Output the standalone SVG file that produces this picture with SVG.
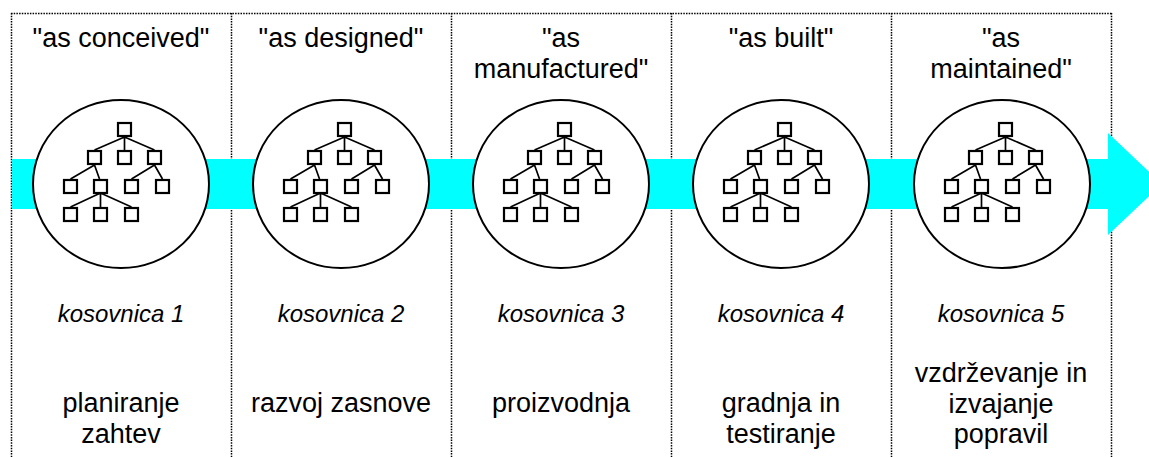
<svg xmlns="http://www.w3.org/2000/svg" xmlns:xlink="http://www.w3.org/1999/xlink" width="1149" height="457" viewBox="0 0 1149 457">
  <style>
    .frame { fill: none; stroke: #000; stroke-width: 1.5; stroke-dasharray: 1.5 1.2; }
    .flow { fill: #00ffff; stroke: none; }
    .bubble { fill: #fff; stroke: #000; stroke-width: 2; }
    .box { fill: #fff; stroke: #000; stroke-width: 2.2; }
    .link { stroke: #000; stroke-width: 1.7; fill: none; }
    text { font-family: "Liberation Sans", Arial, sans-serif; fill: #000; text-anchor: middle; }
    .head { font-size: 27px; }
    .bom { font-size: 24px; font-style: italic; }
    .phase { font-size: 27px; }
  </style>
  <defs>
    <!-- product structure tree, drawn around the bubble centre -->
    <symbol id="tree" overflow="visible">
      <g class="link">
        <path d="M3.5,-47 L-26.5,-34 M3.5,-47 L3.5,-34 M3.5,-47 L33.5,-34"/>
        <path d="M-26.5,-19 L-50.5,-5 M-26.5,-19 L-21.5,-5"/>
        <path d="M33.5,-19 L10.5,-5 M33.5,-19 L41.5,-5"/>
        <path d="M-20.5,9 L-50.5,23 M-20.5,9 L-20.5,23 M-20.5,9 L10.5,23"/>
      </g>
      <rect class="box" x="-3" y="-61" width="13" height="13"/>
      <rect class="box" x="-33" y="-33" width="13" height="13"/>
      <rect class="box" x="-3" y="-33" width="13" height="13"/>
      <rect class="box" x="27" y="-33" width="13" height="13"/>
      <rect class="box" x="-57" y="-4" width="13" height="13"/>
      <rect class="box" x="-27" y="-4" width="13" height="13"/>
      <rect class="box" x="4" y="-4" width="13" height="13"/>
      <rect class="box" x="35" y="-4" width="13" height="13"/>
      <rect class="box" x="-57" y="24" width="13" height="13"/>
      <rect class="box" x="-27" y="24" width="13" height="13"/>
      <rect class="box" x="4" y="24" width="13" height="13"/>
    </symbol>
  </defs>

  <rect width="1149" height="457" fill="#fff"/>

  <!-- column frame -->
  <g id="frame">
    <path class="frame" d="M11,13.5 H1111.5"/>
    <path class="frame" d="M11.5,13 V457 M231.5,13 V457 M451.5,13 V457 M671.5,13 V457 M891.5,13 V457 M1111.5,13 V457"/>
  </g>

  <!-- lifecycle flow arrow -->
  <g id="connectors">
    <path class="flow" d="M12,159 H1108 V133 L1162,184 L1108,235 V209 H12 Z"/>
  </g>

  <g id="stage1">
    <text class="head" x="121" y="47">"as conceived"</text>
    <ellipse class="bubble" cx="121" cy="184" rx="88" ry="84"/>
    <use xlink:href="#tree" x="121" y="184"/>
    <text class="bom" x="121" y="322">kosovnica 1</text>
    <text class="phase" x="121" y="412">planiranje</text>
    <text class="phase" x="121" y="443">zahtev</text>
  </g>

  <g id="stage2">
    <text class="head" x="341" y="47">"as designed"</text>
    <ellipse class="bubble" cx="341" cy="184" rx="88" ry="84"/>
    <use xlink:href="#tree" x="341" y="184"/>
    <text class="bom" x="341" y="322">kosovnica 2</text>
    <text class="phase" x="341" y="412">razvoj zasnove</text>
  </g>

  <g id="stage3">
    <text class="head" x="561" y="47">"as</text>
    <text class="head" x="561" y="78">manufactured"</text>
    <ellipse class="bubble" cx="561" cy="184" rx="88" ry="84"/>
    <use xlink:href="#tree" x="561" y="184"/>
    <text class="bom" x="561" y="322">kosovnica 3</text>
    <text class="phase" x="561" y="412">proizvodnja</text>
  </g>

  <g id="stage4">
    <text class="head" x="781" y="47">"as built"</text>
    <ellipse class="bubble" cx="781" cy="184" rx="88" ry="84"/>
    <use xlink:href="#tree" x="781" y="184"/>
    <text class="bom" x="781" y="322">kosovnica 4</text>
    <text class="phase" x="781" y="412">gradnja in</text>
    <text class="phase" x="781" y="443">testiranje</text>
  </g>

  <g id="stage5">
    <text class="head" x="1001" y="47">"as</text>
    <text class="head" x="1001" y="78">maintained"</text>
    <ellipse class="bubble" cx="1002" cy="184" rx="88" ry="84"/>
    <use xlink:href="#tree" x="1002" y="184"/>
    <text class="bom" x="1001" y="322">kosovnica 5</text>
    <text class="phase" x="1001" y="382">vzdrževanje in</text>
    <text class="phase" x="1001" y="413">izvajanje</text>
    <text class="phase" x="1001" y="443">popravil</text>
  </g>
</svg>
